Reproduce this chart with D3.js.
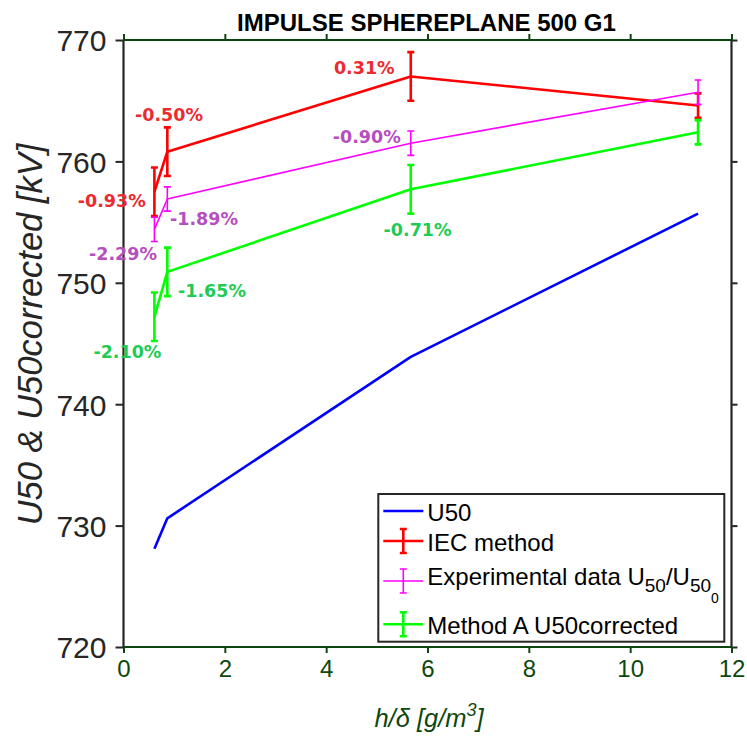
<!DOCTYPE html>
<html>
<head>
<meta charset="utf-8">
<script src="https://cdn.jsdelivr.net/npm/d3@7"></script>
<style>
  html, body { margin: 0; padding: 0; background: #ffffff; }
  svg { display: block; }
</style>
</head>
<body>
<svg id="chart" width="747" height="738"></svg>
<script>
// Humidity parameter h/δ [g/m³] for each test point
const hDelta = [0.61, 0.865, 5.67, 11.34];

// Breakdown voltages [kV]
const u50 = [728.1, 730.6, 743.9, 755.7];
const iecMethod = [757.5, 760.8, 767.0, 764.6];
const iecError = [2, 2, 2, 1];
const experimental = [754.4, 756.9, 761.5, 765.7];
const experimentalError = [1, 1, 1, 1];
const methodA = [747.2, 750.9, 757.7, 762.4];
const methodAError = [2, 2, 2, 1];

// Deviation labels per point (null = no label)
const iecLabels = ["-0.93%", "-0.50%", "0.31%", null];
const experimentalLabels = ["-2.29%", "-1.89%", "-0.90%", null];
const methodALabels = ["-2.10%", "-1.65%", "-0.71%", null];

// Axis ticks
const xTicks = [0, 2, 4, 6, 8, 10, 12];
const yTicks = [720, 730, 740, 750, 760, 770];

// Label placement relative to each point (pixels: text centre, baseline)
const iecLabelOffsets = [[-42.7, 15], [1.7, -31], [-46.5, -2], null];
const experimentalLabelOffsets = [[-31.4, 30.6], [36.7, 26], [-44, -0.5], null];
const methodALabelOffsets = [[-27, 41.5], [44.7, 25.4], [6.8, 46.4], null];

const svg = d3.select("#chart");
const plotLeft = 123.5, plotRight = 731.5, plotTop = 40, plotBottom = 647;

const x = d3.scaleLinear().domain([0, 12]).range([plotLeft, plotRight]);
const y = d3.scaleLinear().domain([720, 770]).range([plotBottom, plotTop]);

const axisGreen = "#0e470e";
const axisDark = "#262626";

// Axes (MATLAB-style box with outward ticks)
const xAxisBottom = d3.axisBottom(x).tickValues(xTicks).tickSize(6).tickPadding(7).tickFormat(d3.format("d"));
const xAxisTop = d3.axisTop(x).tickValues(xTicks).tickSize(6).tickFormat("");
const yAxisLeft = d3.axisLeft(y).tickValues(yTicks).tickSize(8).tickPadding(9).tickFormat(d3.format("d"));
const yAxisRight = d3.axisRight(y).tickValues(yTicks).tickSize(6).tickFormat("");

function styleAxis(g, color, width, fontSize) {
  g.select(".domain").attr("stroke", color).attr("stroke-width", width);
  g.selectAll(".tick line").attr("stroke", color).attr("stroke-width", 2);
  g.selectAll(".tick text")
    .attr("fill", color)
    .attr("font-family", "'Liberation Sans', Arial, sans-serif")
    .attr("font-size", fontSize);
}

const gLeft = svg.append("g").attr("transform", `translate(${plotLeft},0)`).call(yAxisLeft);
styleAxis(gLeft, axisDark, 2.2, 30);
gLeft.select(".domain").attr("d", `M0,${plotTop}V${plotBottom}`);
gLeft.selectAll(".tick text").attr("dy", "0.36em");

const gRight = svg.append("g").attr("transform", `translate(${plotRight},0)`).call(yAxisRight);
styleAxis(gRight, axisDark, 2.2, 0);
gRight.select(".domain").attr("d", `M0,${plotTop}V${plotBottom}`);

const gBottom = svg.append("g").attr("transform", `translate(0,${plotBottom})`).call(xAxisBottom);
styleAxis(gBottom, axisGreen, 2, 24);
gBottom.select(".domain").attr("d", `M${plotLeft},0H${plotRight}`);

const gTop = svg.append("g").attr("transform", `translate(0,${plotTop})`).call(xAxisTop);
styleAxis(gTop, axisGreen, 2, 0);
gTop.select(".domain").attr("d", `M${plotLeft},0H${plotRight}`);

// Title
svg.append("text")
  .attr("x", 426.5).attr("y", 30.7)
  .attr("text-anchor", "middle")
  .attr("font-family", "'Liberation Sans', Arial, sans-serif")
  .attr("font-weight", "bold")
  .attr("font-size", 24)
  .attr("fill", "#000")
  .text("IMPULSE SPHEREPLANE 500 G1");

// Axis labels
svg.append("text")
  .attr("transform", "translate(42,334.5) rotate(-90)")
  .attr("text-anchor", "middle")
  .attr("font-family", "'Liberation Sans', Arial, sans-serif")
  .attr("font-style", "italic")
  .attr("font-size", 34.5)
  .attr("fill", axisDark)
  .text("U50 & U50corrected [kV]");

const xLabel = svg.append("text")
  .attr("x", 429).attr("y", 726.7)
  .attr("text-anchor", "middle")
  .attr("font-family", "'Liberation Sans', Arial, sans-serif")
  .attr("font-style", "italic")
  .attr("font-size", 25.5)
  .attr("fill", axisGreen);
xLabel.append("tspan").text("h/δ [g/m");
xLabel.append("tspan").attr("font-size", 18).attr("dy", -11).text("3");
xLabel.append("tspan").attr("dy", 11).text("]");

// Series
const line = d3.line().x(d => x(d[0])).y(d => y(d[1]));
const plot = svg.append("g");

const series = [
  { values: u50, err: null, color: "#0000ff", width: 2.6, labels: null },
  { values: iecMethod, err: iecError, color: "#ff0000", width: 2.6, labels: iecLabels, offsets: iecLabelOffsets, textColor: "#ec2b31" },
  { values: experimental, err: experimentalError, color: "#ff00ff", width: 1.6, labels: experimentalLabels, offsets: experimentalLabelOffsets, textColor: "#b54fc0" },
  { values: methodA, err: methodAError, color: "#00ff00", width: 2.6, labels: methodALabels, offsets: methodALabelOffsets, textColor: "#1fcb55" }
];

const capHalf = 3.5;

series.forEach(s => {
  const pts = hDelta.map((h, i) => [h, s.values[i]]);
  plot.append("path")
    .attr("d", line(pts))
    .attr("fill", "none")
    .attr("stroke", s.color)
    .attr("stroke-width", s.width)
    .attr("stroke-linejoin", "round");

  if (s.err) {
    const eb = plot.append("g").attr("stroke", s.color).attr("stroke-width", s.width).attr("fill", "none");
    pts.forEach((p, i) => {
      const cx = x(p[0]);
      const y0 = y(p[1] - s.err[i]);
      const y1 = y(p[1] + s.err[i]);
      eb.append("path").attr("d",
        `M${cx},${y0}V${y1}M${cx - capHalf},${y0}H${cx + capHalf}M${cx - capHalf},${y1}H${cx + capHalf}`);
    });
  }
});

// Deviation labels
series.forEach(s => {
  if (!s.labels) return;
  hDelta.forEach((h, i) => {
    if (!s.labels[i]) return;
    const off = s.offsets[i];
    svg.append("text")
      .attr("x", x(h) + off[0])
      .attr("y", y(s.values[i]) + off[1])
      .attr("text-anchor", "middle")
      .attr("font-family", "'DejaVu Sans', sans-serif")
      .attr("font-weight", "bold")
      .attr("font-size", 17.5)
      .attr("fill", s.textColor)
      .text(s.labels[i]);
  });
});

// Legend
const legend = svg.append("g");
legend.append("rect")
  .attr("x", 378.3).attr("y", 494)
  .attr("width", 346).attr("height", 147.7)
  .attr("fill", "#ffffff")
  .attr("stroke", axisDark)
  .attr("stroke-width", 2);

const legendFont = "'Liberation Sans', Arial, sans-serif";
const legendRows = [
  { color: "#0000ff", width: 2.6, bar: false, cy: 511 },
  { color: "#ff0000", width: 2.6, bar: true, cy: 541 },
  { color: "#ff00ff", width: 1.6, bar: true, cy: 581 },
  { color: "#00ff00", width: 2.6, bar: true, cy: 624.3 }
];

legendRows.forEach(r => {
  const g = legend.append("g").attr("stroke", r.color).attr("stroke-width", r.width).attr("fill", "none");
  g.append("path").attr("d", `M383.3,${r.cy}H423.3`);
  if (r.bar) {
    const cx = 403.3;
    g.append("path").attr("d",
      `M${cx},${r.cy - 12}V${r.cy + 12}M${cx - capHalf},${r.cy - 12}H${cx + capHalf}M${cx - capHalf},${r.cy + 12}H${cx + capHalf}`);
  }
});

function legendText(yBase) {
  return legend.append("text")
    .attr("x", 427.3).attr("y", yBase)
    .attr("font-family", legendFont)
    .attr("font-size", 24)
    .attr("fill", "#000");
}
legendText(521).text("U50");
legendText(551).text("IEC method");
const expText = legendText(585);
expText.append("tspan").text("Experimental data U");
expText.append("tspan").attr("font-size", 19).attr("dy", 7).text("50");
expText.append("tspan").attr("dy", -7).text("/U");
expText.append("tspan").attr("font-size", 19).attr("dy", 7).text("50");
expText.append("tspan").attr("font-size", 14).attr("dy", 11).text("0");
legendText(634).text("Method A U50corrected");
</script>
</body>
</html>
